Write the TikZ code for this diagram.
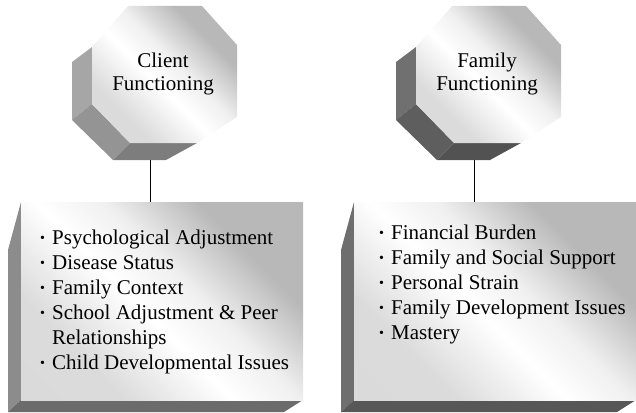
\documentclass[tikz,border=0pt]{standalone}
\usepackage{fontspec}
\setmainfont{Liberation Serif}
\usetikzlibrary{positioning}
\pgfdeclarehorizontalshading{sheen}{100bp}{color(0bp)=(black!15); color(30bp)=(black!14); color(46bp)=(white); color(56bp)=(black!6); color(70bp)=(black!28); color(100bp)=(black!28)}
\newcommand{\bul}{\makebox[12pt][l]{\raisebox{1.5pt}{\fontsize{14}{14}\selectfont\textbullet}}}

\begin{document}
\begin{tikzpicture}[x=1pt,y=-1pt,
    face/.style={shading=sheen,shading angle=45},
    title/.style={align=center,font=\fontsize{21}{23}\selectfont},
    items/.style={align=left,anchor=base west,inner sep=0pt,font=\fontsize{21}{25}\selectfont},
    link/.style={draw=black,line width=0.8pt}]
  \useasboundingbox (0,0) rectangle (636,412);
  % octagons and boxes, left and right
  \foreach \ox/\bx/\ca/\cb/\cc/\cd/\ce in {0/0/35/42/51/45/58, 324/333/56/63/68/57/66} {
    \begin{scope}[xshift=\ox]
      \fill[black!\ca] (92,47) -- (72,62) -- (72,120) -- (92,104) -- cycle;
      \fill[black!\cb] (92,104) -- (72,120) -- (113,160) -- (130,143) -- cycle;
      \fill[black!\cc] (130,143) -- (113,160) -- (166,160) -- (197,143) -- cycle;
      \shade[face] (128,6) -- (202,6) -- (237,45) -- (237,117) -- (197,143)
        -- (130,143) -- (92,104) -- (92,47) -- cycle;
    \end{scope}
    \begin{scope}[xshift=\bx]
      \fill[black!\cd] (21,202) -- (8,250) -- (8,412) -- (21,400) -- cycle;
      \fill[black!\ce] (21,400) -- (8,412) -- (284,412) -- (303,400) -- cycle;
      \shade[face] (21,202) rectangle (303,400);
    \end{scope}
  }
  \node[title] (client) at (163,74) {Client\\Functioning};
  \node[title] (family) at (487,74) {Family\\Functioning};
  \node[items] (clientlist) at (40,369) {\bul Psychological Adjustment\\
    \bul Disease Status\\
    \bul Family Context\\
    \bul School Adjustment \& Peer\\
    \hspace*{12pt}Relationships\\
    \bul Child Developmental Issues};
  \node[items] (familylist) at (379,339) {\bul Financial Burden\\
    \bul Family and Social Support\\
    \bul Personal Strain\\
    \bul Family Development Issues\\
    \bul Mastery};
  \coordinate (clientbot) at (150,160);
  \coordinate (clientbox) at (150,202);
  \coordinate (familybot) at (474,160);
  \coordinate (familybox) at (474,202);
  \draw[link] (clientbot) -- (clientbox);
  \draw[link] (familybot) -- (familybox);
\end{tikzpicture}
\end{document}
